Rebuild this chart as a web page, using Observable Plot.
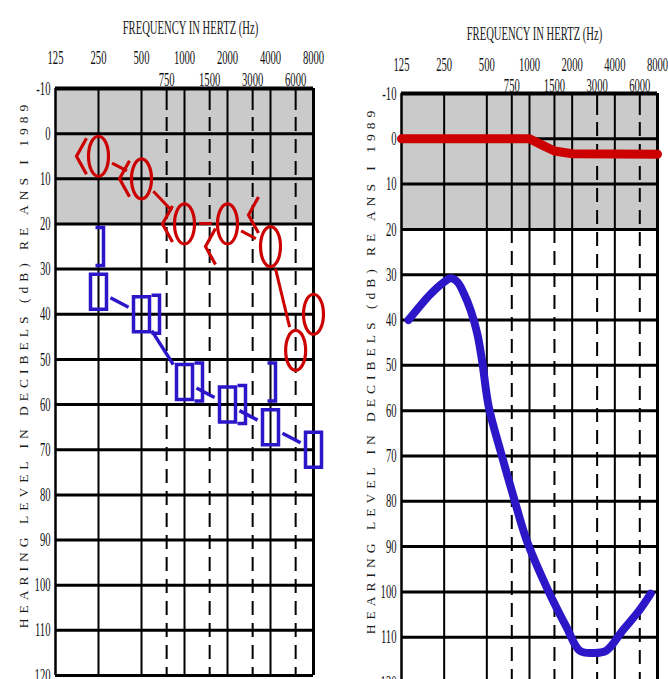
<!DOCTYPE html>
<html>
<head>
<meta charset="utf-8">
<script src="https://cdn.jsdelivr.net/npm/d3@7"></script>
<script src="https://cdn.jsdelivr.net/npm/@observablehq/plot@0.6"></script>
<style>
  html, body { margin: 0; padding: 0; background: #fff; overflow: hidden; }
  #wrap { position: relative; width: 668px; height: 679px; overflow: hidden; background: #fff; }
  #left { position: absolute; left: 0; top: 0; }
  #right { position: absolute; left: 334px; top: 0; }
</style>
</head>
<body>
<div id="wrap"><div id="left"></div><div id="right"></div></div>
<script>
// ---------- shared axis data ----------
const octaveFreqs = [125, 250, 500, 1000, 2000, 4000, 8000];
const midFreqs = [750, 1500, 3000, 6000];
const levels = [-10, 0, 10, 20, 30, 40, 50, 60, 70, 80, 90, 100, 110, 120];
const freqDomain = [125, 8000];
const levelDomain = [-10, 120];
const normalBand = [{x1: 125, x2: 8000, y1: -10, y2: 20}];
const title = "FREQUENCY IN HERTZ (Hz)";
const yTitle = "HEARING LEVEL IN DECIBELS (dB) RE ANS I 1989";

// ---------- left audiogram ----------
const rightAirFreq = [250, 500, 1000, 2000, 4000, 6000, 8000];
const rightAirDb   = [5, 10, 20, 20, 25, 48, 40];
const rightBoneFreq = [250, 500, 1000, 2000, 4000];
const rightBoneDb   = [5, 10, 20, 25, 18];
const leftAirFreq = [250, 500, 1000, 2000, 4000, 8000];
const leftAirDb   = [35, 40, 55, 60, 65, 70];
const leftBoneFreq = [250, 500, 1000, 2000, 4000];
const leftBoneDb   = [25, 40, 55, 60, 55];

// ---------- right audiogram ----------
const redFreq = [125, 1000, 1250, 1500, 2000, 8000];
const redDb   = [0, 0, 1.5, 2.7, 3.3, 3.4];
const blueFreq = [140, 200, 250, 278, 310, 345, 385, 428, 463, 516, 623, 773, 957, 1322, 1825, 2264, 2800, 3478, 4548, 5954, 7165];
const blueDb   = [40, 34.3, 31.6, 30.8, 31.6, 34.2, 37.9, 43, 49, 59.2, 68.8, 79.1, 88.7, 99, 107.8, 113, 113.5, 113, 108.5, 104.1, 100.4];

const RED = "#cc0000";
const BLUE = "#2b17c8";
const GRAY = "#cacaca";
const FONT = "Liberation Serif, Times New Roman, serif";
const NS = "http://www.w3.org/2000/svg";

const zip = (f, v) => f.map((d, i) => ({f: d, db: v[i]}));

// ---------- custom symbols ----------
const sym = {
  ellipse: (rx, ry) => ({draw(p) {
    const k = 0.5523;
    p.moveTo(rx, 0);
    p.bezierCurveTo(rx, ry * k, rx * k, ry, 0, ry);
    p.bezierCurveTo(-rx * k, ry, -rx, ry * k, -rx, 0);
    p.bezierCurveTo(-rx, -ry * k, -rx * k, -ry, 0, -ry);
    p.bezierCurveTo(rx * k, -ry, rx, -ry * k, rx, 0);
    p.closePath();
  }}),
  box: (hw, hh) => ({draw(p) {
    p.moveTo(-hw, -hh); p.lineTo(hw, -hh); p.lineTo(hw, hh); p.lineTo(-hw, hh); p.closePath();
  }}),
  less: (hw, hh) => ({draw(p) {
    p.moveTo(hw, -hh); p.lineTo(-hw, 0); p.lineTo(hw, hh);
  }}),
  bracket: (hw, hh) => ({draw(p) {
    p.moveTo(-hw, -hh); p.lineTo(hw, -hh); p.lineTo(hw, hh); p.lineTo(-hw, hh);
  }})
};

// connecting segments between consecutive symbols, kept off the symbols
function connectors(freqs, dbs, rx, ry, kind, color, width, pad) {
  return (index, scales) => {
    const g = document.createElementNS(NS, "g");
    for (let i = 0; i < freqs.length - 1; i++) {
      const x1 = scales.x(freqs[i]), y1 = scales.y(dbs[i]);
      const x2 = scales.x(freqs[i + 1]), y2 = scales.y(dbs[i + 1]);
      const dx = x2 - x1, dy = y2 - y1, L = Math.hypot(dx, dy);
      const ux = dx / L, uy = dy / L;
      const t = kind === "ellipse"
        ? 1 / Math.hypot(ux / rx, uy / ry)
        : Math.min(rx / Math.max(Math.abs(ux), 1e-6), ry / Math.max(Math.abs(uy), 1e-6));
      const gap = t + pad;
      if (L <= 2 * gap + 2) continue;
      const line = document.createElementNS(NS, "line");
      line.setAttribute("x1", x1 + ux * gap);
      line.setAttribute("y1", y1 + uy * gap);
      line.setAttribute("x2", x2 - ux * gap);
      line.setAttribute("y2", y2 - uy * gap);
      line.setAttribute("stroke", color);
      line.setAttribute("stroke-width", width);
      g.appendChild(line);
    }
    return g;
  };
}

const DASH = "22,7" + ",14,8".repeat(40);

function gridMarks(solidTopMid) {
  const marks = [
    Plot.rect(normalBand, {x1: "x1", x2: "x2", y1: "y1", y2: "y2", fill: GRAY}),
    Plot.ruleX(octaveFreqs.slice(1, -1), {x: d => d, y1: -10, y2: 120, stroke: "#000", strokeWidth: 2}),
    Plot.ruleX([freqDomain[0]], {x: d => d, y1: -10, y2: 120, stroke: "#000", strokeWidth: 2.5}),
    Plot.ruleX([freqDomain[1]], {x: d => d, y1: -10, y2: 120, stroke: "#000", strokeWidth: 3}),
  ];
  if (solidTopMid) {
    const solid = midFreqs.filter(f => f < 2000);
    const dashed = midFreqs.filter(f => f > 2000);
    marks.push(
      Plot.ruleX(solid, {x: d => d, y1: -10, y2: 20, stroke: "#000", strokeWidth: 2}),
      Plot.ruleX(solid, {x: d => d, y1: 20, y2: 120, stroke: "#000", strokeWidth: 2, strokeDasharray: "14,8"}),
      Plot.ruleX(dashed, {x: d => d, y1: -10, y2: 120, stroke: "#000", strokeWidth: 2, strokeDasharray: DASH})
    );
  } else {
    marks.push(
      Plot.ruleX(midFreqs, {x: d => d, y1: -10, y2: 120, stroke: "#000", strokeWidth: 2, strokeDasharray: DASH})
    );
  }
  marks.push(
    Plot.ruleY(levels.slice(1), {y: d => d, x1: freqDomain[0], x2: freqDomain[1], stroke: "#000", strokeWidth: 3}),
    Plot.ruleY([levels[0]], {y: d => d, x1: freqDomain[0], x2: freqDomain[1], stroke: "#000", strokeWidth: 4})
  );
  return marks;
}

function labelMarks(o) {
  return [
    Plot.text([title], {frameAnchor: "top", dx: o.titleDx, dy: o.titleY - o.marginTop,
      fontFamily: FONT, fontSize: 19, fill: "#1a1a1a"}),
    Plot.text(octaveFreqs, {x: d => d, text: d => String(d), frameAnchor: "top", dy: o.row1Y - o.marginTop,
      fontFamily: FONT, fontSize: 19, fill: "#111"}),
    Plot.text(midFreqs, {x: d => d, text: d => String(d), frameAnchor: "top", dy: o.row2Y - o.marginTop,
      fontFamily: FONT, fontSize: 19, fill: "#111"}),
    Plot.text(levels, {y: d => d, text: d => String(d), frameAnchor: "left", dx: -5, textAnchor: "end",
      fontFamily: FONT, fontSize: 19, fill: "#111"}),
    Plot.text([yTitle], {frameAnchor: "left", textAnchor: "middle", rotate: -90, dx: o.yTitleDx, dy: o.yTitleDy,
      fontFamily: FONT, fontSize: 13.5, fill: "#1a1a1a"})
  ];
}

// condensed look of the original lettering; wide spacing for the vertical title
function styleTexts(svg) {
  svg.querySelectorAll("text").forEach(t => {
    if (t.textContent === yTitle) {
      t.style.letterSpacing = "5px";
    } else {
      t.setAttribute("transform", (t.getAttribute("transform") || "") + " scale(0.56,1)");
    }
  });
  return svg;
}

// ---------- left chart ----------
const L = {width: 334, height: 679, marginLeft: 55, marginRight: 21, marginTop: 88, marginBottom: 4,
  titleDx: 6, titleY: 20, row1Y: 50, row2Y: 72, yTitleDx: -32, yTitleDy: -18};

const leftChart = Plot.plot({
  width: L.width, height: L.height,
  marginLeft: L.marginLeft, marginRight: L.marginRight, marginTop: L.marginTop, marginBottom: L.marginBottom,
  style: {background: "transparent", overflow: "visible"},
  x: {type: "log", domain: freqDomain, axis: null},
  y: {domain: levelDomain, reverse: true, axis: null},
  marks: [
    ...gridMarks(false),
    connectors(rightAirFreq, rightAirDb, 10, 20, "ellipse", RED, 3, 5),
    connectors(leftAirFreq, leftAirDb, 8, 17.5, "box", BLUE, 3.5, 5),
    Plot.dot(zip(rightAirFreq, rightAirDb), {x: "f", y: "db", symbol: sym.ellipse(10, 20), fill: "none", stroke: RED, strokeWidth: 3.2}),
    Plot.dot(zip(rightBoneFreq, rightBoneDb), {x: "f", y: "db", dx: -17, symbol: sym.less(5, 18), fill: "none", stroke: RED, strokeWidth: 3.2}),
    Plot.dot(zip(leftAirFreq, leftAirDb), {x: "f", y: "db", symbol: sym.box(8, 17.5), fill: "none", stroke: BLUE, strokeWidth: 3.5}),
    Plot.dot(zip(leftBoneFreq, leftBoneDb), {x: "f", y: "db", dx: 1, filter: d => d.f === 250 || d.f === 4000,
      symbol: sym.bracket(4, 19), fill: "none", stroke: BLUE, strokeWidth: 3.5}),
    Plot.dot(zip(leftBoneFreq, leftBoneDb), {x: "f", y: "db", dx: 14, filter: d => d.f !== 250 && d.f !== 4000,
      symbol: sym.bracket(4, 19), fill: "none", stroke: BLUE, strokeWidth: 3.5}),
    ...labelMarks(L)
  ]
});
document.getElementById("left").appendChild(styleTexts(leftChart));

// ---------- right chart ----------
const R = {width: 334, height: 684, marginLeft: 67, marginRight: 11, marginTop: 93, marginBottom: 2,
  titleDx: 5, titleY: 26, row1Y: 57, row2Y: 78, yTitleDx: -31, yTitleDy: -18};

const rightChart = Plot.plot({
  width: R.width, height: R.height,
  marginLeft: R.marginLeft, marginRight: R.marginRight, marginTop: R.marginTop, marginBottom: R.marginBottom,
  style: {background: "transparent", overflow: "visible"},
  x: {type: "log", domain: freqDomain, axis: null},
  y: {domain: levelDomain, reverse: true, axis: null},
  marks: [
    ...gridMarks(true),
    Plot.line(zip(redFreq, redDb), {x: "f", y: "db", stroke: RED, strokeWidth: 9}),
    Plot.line(zip(blueFreq, blueDb), {x: "f", y: "db", stroke: BLUE, strokeWidth: 8, curve: "catmull-rom", strokeLinecap: "round"}),
    ...labelMarks(R)
  ]
});
document.getElementById("right").appendChild(styleTexts(rightChart));
</script>
</body>
</html>
